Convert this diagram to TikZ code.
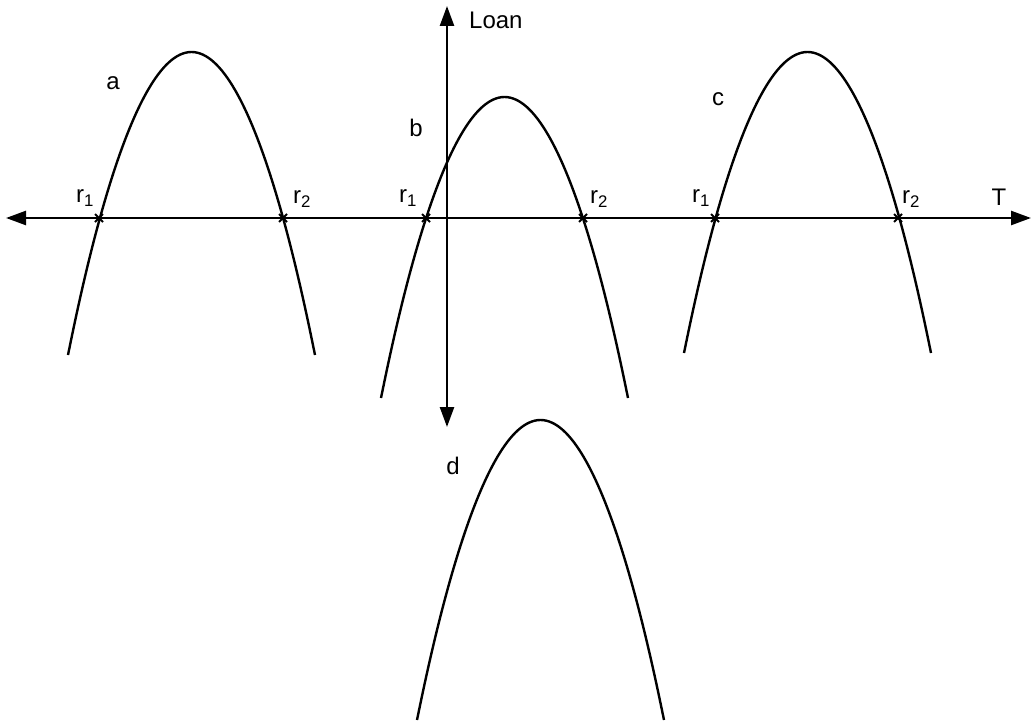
\documentclass[tikz,border=0pt]{standalone}
\usepackage{fontspec}
\setmainfont{Liberation Sans}
\usetikzlibrary{arrows.meta}
\begin{document}
\begin{tikzpicture}[x=1pt,y=-1pt,
  axis/.style={line width=2.5pt,{Triangle[length=20pt,width=14pt]}-{Triangle[length=20pt,width=14pt]}},
  curve/.style={line width=2.4pt},
  lbl/.style={font=\fontsize{24}{28}\selectfont,inner sep=0pt},
  xmark/.style={line width=1.8pt}]
\useasboundingbox (0,0) rectangle (1031,725);
% axes
\coordinate (L) at (6,218);
\coordinate (R) at (1031,218);
\coordinate (Up) at (447,6);
\coordinate (Dn) at (447,427);
\draw[axis] (L) -- (R);
\draw[axis] (Up) -- (Dn);
% parabolas
\draw[curve] (68,355) parabola bend (191.5,52) (315,355);
\draw[curve] (381,398) parabola bend (504.5,97) (628,398);
\draw[curve] (684,353) parabola bend (807.5,52) (931,353);
\draw[curve] (417,720) parabola bend (540.5,420) (664,720);
% root marks
\foreach \x in {99,283,426,583,715,898}{
  \draw[xmark] (\x-4,214) -- (\x+4,222);
  \draw[xmark] (\x-4,222) -- (\x+4,214);
}
% labels
\node[lbl] (la) at (113,83) {a};
\node[lbl] (lb) at (416,128) {b};
\node[lbl] (lc) at (718,99) {c};
\node[lbl] (ld) at (453,466) {d};
\node[lbl] (ar1) at (85,198) {r\textsubscript{1}};
\node[lbl] (ar2) at (302,199) {r\textsubscript{2}};
\node[lbl] (br1) at (408,198) {r\textsubscript{1}};
\node[lbl] (br2) at (599,199) {r\textsubscript{2}};
\node[lbl] (cr1) at (701,198) {r\textsubscript{1}};
\node[lbl] (cr2) at (911,199) {r\textsubscript{2}};
\node[lbl] (T) at (999,197) {T};
\node[lbl,anchor=west] (loan) at (469,20) {Loan};
\end{tikzpicture}
\end{document}
